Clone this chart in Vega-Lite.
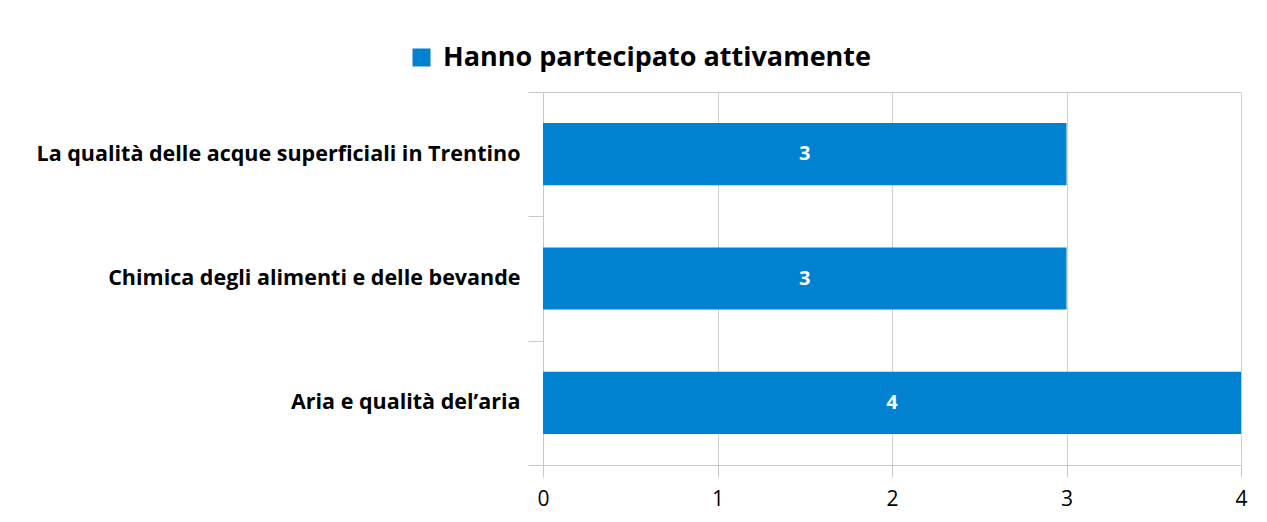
{
  "$schema": "https://vega.github.io/schema/vega-lite/v6.json",
  "autosize": {"type": "none"},
  "padding": {"left": 543, "top": 92, "right": 26, "bottom": 57},
  "width": 698,
  "height": 373,
  "background": "white",
  "config": {
    "font": "Open Sans",
    "view": {"stroke": "#c8c8c8", "strokeWidth": 1}
  },
  "data": {
    "values": [
      {"topic": "La qualità delle acque superficiali in Trentino", "value": 3, "series": "Hanno partecipato attivamente"},
      {"topic": "Chimica degli alimenti e delle bevande", "value": 3, "series": "Hanno partecipato attivamente"},
      {"topic": "Aria e qualità del’aria", "value": 4, "series": "Hanno partecipato attivamente"}
    ]
  },
  "encoding": {
    "y": {
      "field": "topic",
      "type": "nominal",
      "sort": null,
      "title": null,
      "scale": {"paddingInner": 0, "paddingOuter": 0},
      "axis": {
        "tickBand": "extent",
        "tickSize": 15,
        "tickColor": "#c8c8c8",
        "domainColor": "#c8c8c8",
        "labelFontSize": 21.5,
        "labelFontWeight": "bold",
        "labelColor": "#000000",
        "labelPadding": 8,
        "labelLimit": 600
      }
    }
  },
  "layer": [
    {
      "mark": {"type": "bar", "height": {"band": 0.5}},
      "encoding": {
        "x": {
          "field": "value",
          "type": "quantitative",
          "title": null,
          "scale": {"domain": [0, 4], "nice": false},
          "axis": {
            "values": [0, 1, 2, 3, 4],
            "grid": true,
            "gridColor": "#d0d0d0",
            "domainColor": "#c8c8c8",
            "tickColor": "#c8c8c8",
            "tickSize": 12,
            "labelFontSize": 21,
            "labelColor": "#000000",
            "labelPadding": 11,
            "labelFlush": false
          }
        },
        "color": {
          "field": "series",
          "type": "nominal",
          "scale": {"range": ["#0082D1"]},
          "legend": {
            "title": null,
            "orient": "none",
            "legendX": -135,
            "legendY": -48,
            "symbolType": "square",
            "symbolSize": 324,
            "symbolStrokeWidth": 0,
            "labelFontSize": 27,
            "labelFontWeight": "bold",
            "labelColor": "#000000",
            "labelOffset": 8,
            "labelLimit": 800
          }
        }
      }
    },
    {
      "mark": {"type": "text", "color": "white", "fontSize": 20, "fontWeight": "bold", "baseline": "middle", "align": "center"},
      "encoding": {
        "x": {
          "field": "value",
          "type": "quantitative",
          "scale": {"domain": [0, 8], "nice": false},
          "axis": null
        },
        "text": {"field": "value", "type": "quantitative"}
      }
    }
  ],
  "resolve": {"scale": {"x": "independent"}}
}
